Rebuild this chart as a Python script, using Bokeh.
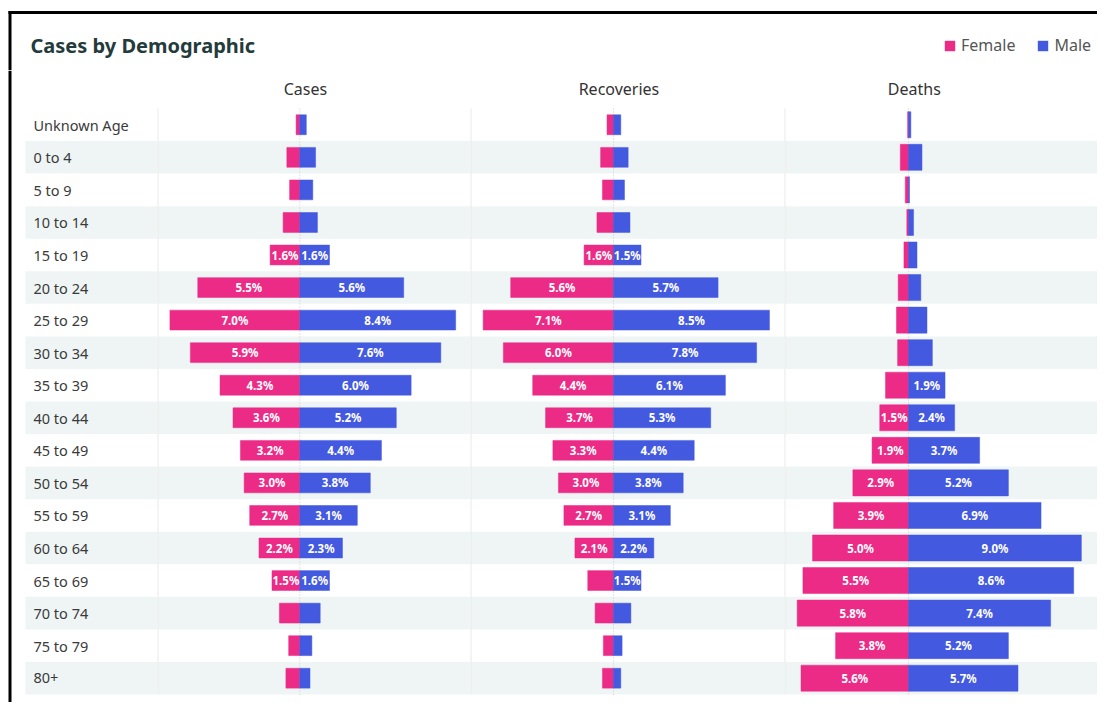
from bokeh.plotting import figure
from bokeh.layouts import column, row
from bokeh.models import (Range1d, BoxAnnotation, Legend, LegendItem, ColumnDataSource)
from bokeh.core.properties import value
from bokeh.embed import file_html
from bokeh.resources import INLINE

# ---------------- data ----------------
age_groups = ["Unknown Age", "0 to 4", "5 to 9", "10 to 14", "15 to 19", "20 to 24",
              "25 to 29", "30 to 34", "35 to 39", "40 to 44", "45 to 49", "50 to 54",
              "55 to 59", "60 to 64", "65 to 69", "70 to 74", "75 to 79", "80+"]
panel_names = ["Cases", "Recoveries", "Deaths"]
cases_female = [0.2, 0.7, 0.55, 0.9, 1.6, 5.5, 7.0, 5.9, 4.3, 3.6, 3.2, 3.0, 2.7, 2.2, 1.5, 1.1, 0.6, 0.75]
cases_male = [0.35, 0.85, 0.7, 0.95, 1.6, 5.6, 8.4, 7.6, 6.0, 5.2, 4.4, 3.8, 3.1, 2.3, 1.6, 1.1, 0.65, 0.55]
rec_female = [0.35, 0.7, 0.6, 0.9, 1.6, 5.6, 7.1, 6.0, 4.4, 3.7, 3.3, 3.0, 2.7, 2.1, 1.4, 1.0, 0.55, 0.6]
rec_male = [0.4, 0.8, 0.6, 0.9, 1.5, 5.7, 8.5, 7.8, 6.1, 5.3, 4.4, 3.8, 3.1, 2.2, 1.5, 0.95, 0.47, 0.4]
deaths_female = [0.05, 0.43, 0.17, 0.09, 0.24, 0.54, 0.63, 0.57, 1.2, 1.5, 1.9, 2.9, 3.9, 5.0, 5.5, 5.8, 3.8, 5.6]
deaths_male = [0.12, 0.7, 0.05, 0.26, 0.44, 0.64, 0.96, 1.24, 1.9, 2.4, 3.7, 5.2, 6.9, 9.0, 8.6, 7.4, 5.2, 5.7]
legend_labels = ["Female", "Male"]

# ---------------- style ----------------
PINK = "#EB2B86"
BLUE = "#4359DF"
BAND = "#EFF5F5"
SEP = "#E9E9E9"
FONT = "Noto Sans"
LABEL_MIN = 1.45

OFF = 8  # outer margin of the dashboard frame
ROW_PX = 32.55
HEADER_PX = 38.0
BOTTOM_PX = 8.0
PANEL_H = 632
n = len(age_groups)
y_top = -0.5 - HEADER_PX / ROW_PX
y_bot = n - 0.5 + BOTTOM_PX / ROW_PX


def bare(fig):
    fig.xaxis.visible = False
    fig.yaxis.visible = False
    fig.xgrid.visible = False
    fig.ygrid.visible = False
    fig.outline_line_color = None
    fig.min_border = 0
    fig.background_fill_color = "white"
    fig.border_fill_color = "white"
    return fig


def add_bands(fig, left=None):
    for i in range(n):
        if i % 2 == 1:
            fig.add_layout(BoxAnnotation(bottom=i - 0.5, top=i + 0.5, left=left,
                                         fill_color=BAND, fill_alpha=1.0,
                                         line_color=None, level="underlay"))


# ---------------- header ----------------
W_TOTAL = 1097
HEAD_H = 70
header = figure(width=W_TOTAL, height=HEAD_H, x_range=Range1d(0, W_TOTAL),
                y_range=Range1d(HEAD_H, 0), toolbar_location=None, tools="",
                output_backend="svg")
bare(header)
header.segment(x0=[OFF], y0=[OFF + 4], x1=[W_TOTAL], y1=[OFF + 4], line_color="black", line_width=3)
header.segment(x0=[OFF + 1.5], y0=[OFF + 2.5], x1=[OFF + 1.5], y1=[HEAD_H], line_color="black", line_width=3)
header.text(x=[OFF + 22], y=[OFF + 37], text=["Cases by Demographic"], text_font=value(FONT),
            text_font_style="bold", text_font_size="20px", text_color="#233B3B",
            text_baseline="middle", text_align="left")
# legend swatches: renderers whose only point lies outside the header's range
leg_renderers = []
for col in (PINK, BLUE):
    leg_renderers.append(header.quad(left=[-60], right=[-50], top=[-60], bottom=[-50],
                                     fill_color=col, line_color=None))
legend = Legend(items=[LegendItem(label=lab, renderers=[r])
                       for lab, r in zip(legend_labels, leg_renderers)],
                orientation="horizontal", location=(943, 14),
                glyph_width=13, glyph_height=13, label_standoff=5, spacing=21,
                padding=0, margin=0, label_text_font=FONT, label_text_font_size="16px",
                label_text_color="#555555", border_line_alpha=0,
                background_fill_alpha=0, label_height=18)
header.add_layout(legend)

# ---------------- row labels ----------------
LABEL_W = 157
labels_fig = figure(width=LABEL_W, height=PANEL_H, x_range=Range1d(0, LABEL_W),
                    y_range=Range1d(y_bot, y_top), toolbar_location=None, tools="",
                    output_backend="svg")
bare(labels_fig)
add_bands(labels_fig, left=OFF + 17)
labels_fig.segment(x0=[OFF + 1.5], y0=[y_top], x1=[OFF + 1.5], y1=[y_bot], line_color="black", line_width=3)
labels_fig.text(x=[OFF + 25] * n, y=list(range(n)), text=age_groups, text_font=value(FONT),
                text_font_size="14.5px", text_color="#3A3A3A", text_baseline="middle",
                text_align="left")

# ---------------- panels ----------------
panels = [
    (panel_names[0], cases_female, cases_male, (-7.67, 9.2), 313, 0.61),
    (panel_names[1], rec_female, rec_male, (-7.79, 9.32), 314, 0.61),
    (panel_names[2], deaths_female, deaths_male, (-6.46, 9.84), 313, 0.80),
]

figs = [labels_fig]
for name, fem, mal, (x0, x1), w, bh in panels:
    p = figure(width=w, height=PANEL_H, x_range=Range1d(x0, x1),
               y_range=Range1d(y_bot, y_top), toolbar_location=None, tools="",
               output_backend="svg")
    bare(p)
    add_bands(p)
    p.segment(x0=[x0], y0=[-0.5], x1=[x0], y1=[n - 0.5], line_color=SEP, line_width=2)
    p.segment(x0=[0], y0=[-0.5], x1=[0], y1=[n - 0.5], line_color="#C9C9C9",
              line_width=1, line_dash="1 2")
    ys = list(range(n))
    src = ColumnDataSource(dict(y=ys, fl=[-v for v in fem], f=fem, m=mal,
                                zero=[0] * n))
    p.hbar(y="y", left="fl", right="zero", height=bh, source=src,
           fill_color=PINK, line_color=PINK, line_width=0.5)
    p.hbar(y="y", left="zero", right="m", height=bh, source=src,
           fill_color=BLUE, line_color=BLUE, line_width=0.5)
    fx = [-v / 2 for v in fem if v >= LABEL_MIN]
    fy = [i for i, v in enumerate(fem) if v >= LABEL_MIN]
    ft = [f"{v:.1f}%" for v in fem if v >= LABEL_MIN]
    mx = [v / 2 for v in mal if v >= LABEL_MIN]
    my = [i for i, v in enumerate(mal) if v >= LABEL_MIN]
    mt = [f"{v:.1f}%" for v in mal if v >= LABEL_MIN]
    for xs_, ys_, ts_ in ((fx, fy, ft), (mx, my, mt)):
        p.text(x=xs_, y=ys_, text=ts_, text_font=value(FONT), text_font_size="11.5px",
               text_font_style="bold", text_color="white", text_align="center",
               text_baseline="middle")
    p.text(x=[0.3], y=[-0.5 - 20 / ROW_PX], text=[name], text_font=value(FONT),
           text_font_size="16px", text_color="#333333", text_align="center",
           text_baseline="middle")
    figs.append(p)

layout = column(header, row(*figs, spacing=0), spacing=0)

with open("out.html", "w") as f:
    f.write(file_html(layout, INLINE))
